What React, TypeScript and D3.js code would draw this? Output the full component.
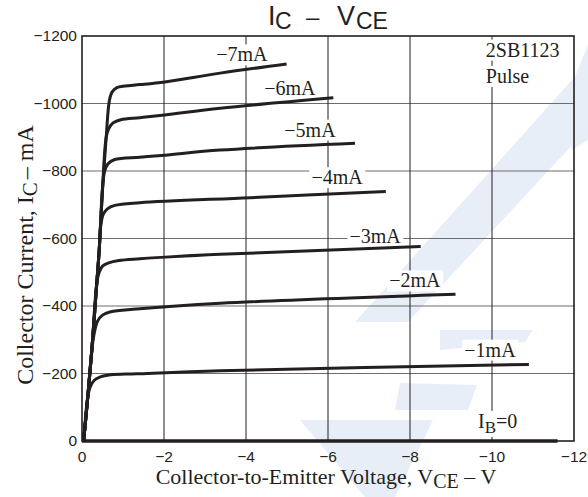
import React, { useRef, useLayoutEffect, useState } from "react";
import * as d3 from "d3";

// ---- data (V_CE in volts, I_C in mA) ----
const xTicks = [0, -2, -4, -6, -8, -10, -12];
const yTicks = [0, -200, -400, -600, -800, -1000, -1200];

const ib1 = [[-0.04, 0], [-0.14, -130], [-0.2, -160], [-0.3, -180], [-0.45, -190], [-0.7, -196], [-1.33, -199], [-3.37, -208], [-10.9, -227]];
const ib2 = [[-0.04, 0], [-0.14, -130], [-0.24, -270], [-0.3, -320], [-0.38, -355], [-0.5, -373], [-0.7, -383], [-1.33, -391], [-3.37, -408], [-9.11, -435]];
const ib3 = [[-0.04, 0], [-0.14, -130], [-0.24, -270], [-0.36, -467], [-0.42, -500], [-0.5, -518], [-0.65, -528], [-0.9, -535], [-1.41, -540], [-3.37, -553], [-8.26, -576]];
const ib4 = [[-0.04, 0], [-0.14, -130], [-0.24, -270], [-0.36, -467], [-0.42, -566], [-0.46, -640], [-0.52, -672], [-0.62, -688], [-0.8, -698], [-1.41, -706], [-4.1, -721], [-7.41, -739]];
const ib5 = [[-0.04, 0], [-0.14, -130], [-0.24, -270], [-0.36, -467], [-0.42, -566], [-0.5, -750], [-0.55, -798], [-0.63, -821], [-0.8, -834], [-1.41, -841], [-2.02, -847], [-3.37, -862], [-6.66, -882]];
const ib6 = [[-0.04, 0], [-0.14, -130], [-0.24, -270], [-0.36, -467], [-0.42, -566], [-0.5, -745], [-0.59, -900], [-0.65, -925], [-0.75, -942], [-0.95, -952], [-1.41, -958], [-2.02, -966], [-3.37, -986], [-6.13, -1017]];
const ib7 = [[-0.04, 0], [-0.14, -130], [-0.24, -270], [-0.36, -467], [-0.42, -566], [-0.5, -745], [-0.59, -900], [-0.67, -1010], [-0.74, -1035], [-0.85, -1047], [-1.05, -1052], [-1.41, -1056], [-2.02, -1064], [-3.37, -1090], [-4.99, -1117]];
const ib0 = [[0, 0], [-11.6, 0]];

const curves = [ib1, ib2, ib3, ib4, ib5, ib6, ib7];
const curveLabels = ["−1mA", "−2mA", "−3mA", "−4mA", "−5mA", "−6mA", "−7mA"];
const curveLabelAt = [[-9.95, -250], [-8.12, -455], [-7.15, -588], [-6.22, -761], [-5.56, -902], [-5.07, -1025], [-3.9, -1125]];

const partName = "2SB1123";
const partNote = "Pulse";

// ---- layout ----
const W = 588, H = 497;
const M = { left: 82, right: 574, top: 36, bottom: 441 };
const INK = "#231f20";
const SERIF = "'Liberation Serif', 'Times New Roman', serif";
const SANS = "'Liberation Sans', Arial, sans-serif";

function BgText({ x, y, anchor = "middle", size = 20, children, pad = 2 }: any) {
  const ref = useRef<SVGTextElement>(null);
  const [box, setBox] = useState<any>(null);
  useLayoutEffect(() => {
    if (ref.current) {
      const b = ref.current.getBBox();
      setBox({ x: b.x, y: b.y, w: b.width, h: b.height });
    }
  }, []);
  return (
    <g>
      {box && <rect x={box.x - pad} y={box.y + 1} width={box.w + pad * 2} height={box.h - 1} fill="#fff" />}
      <text ref={ref} x={x} y={y} textAnchor={anchor} fontFamily={SERIF} fontSize={size} fill={INK}>
        {children}
      </text>
    </g>
  );
}

export default function App() {
  const x = d3.scaleLinear().domain([0, -12]).range([M.left, M.right]);
  const y = d3.scaleLinear().domain([0, -1200]).range([M.bottom, M.top]);
  const line = d3
    .line<number[]>()
    .x((d) => x(d[0]))
    .y((d) => y(d[1]))
    .curve(d3.curveCatmullRom.alpha(0.5));

  const wm = "#e8eef8";

  return (
    <svg width={W} height={H} style={{ position: "absolute", left: 0, top: 0, background: "#fff" }}>
      {/* watermark */}
      <g fill={wm}>
        <polygon points="355,322 408,322 588,128 588,62" />
        <polygon points="300,420 433,420 395,497 365,497" />
        <polygon points="400,383 477,385 468,410 395,410" />
        <polygon points="440,330 533,330 525,342 440,350" />
        <polygon points="588,45 562,108 572,150 588,140" />
      </g>

      {/* grid */}
      {yTicks.slice(1, -1).map((t) => (
        <line key={"gy" + t} x1={M.left} x2={M.right} y1={y(t)} y2={y(t)} stroke="#6d6d6d" strokeWidth={1} />
      ))}
      {xTicks.slice(1, -1).map((t) => (
        <line key={"gx" + t} x1={x(t)} x2={x(t)} y1={M.top} y2={M.bottom} stroke={INK} strokeWidth={1} />
      ))}

      {/* labels with white backgrounds */}
      {curveLabels.map((l, i) => (
        <BgText key={l} x={x(curveLabelAt[i][0])} y={y(curveLabelAt[i][1])} size={20}>
          {l}
        </BgText>
      ))}
      <BgText x={x(-9.66)} y={y(-39)} anchor="start" size={20}>
        I<tspan fontSize={17} dy={5}>B</tspan>
        <tspan dy={-5}>=0</tspan>
      </BgText>
      <BgText x={x(-9.85)} y={y(-1139)} anchor="start" size={20}>
        {partName}
      </BgText>
      <BgText x={x(-9.85)} y={y(-1061)} anchor="start" size={20}>
        {partNote}
      </BgText>

      {/* frame */}
      <rect x={M.left} y={M.top} width={M.right - M.left} height={M.bottom - M.top} fill="none" stroke={INK} strokeWidth={1.6} />

      {/* curves */}
      {curves.map((c, i) => (
        <path key={i} d={line(c as any) || ""} fill="none" stroke={INK} strokeWidth={3} strokeLinecap="butt" strokeLinejoin="round" />
      ))}
      <path d={line(ib0 as any) || ""} fill="none" stroke={INK} strokeWidth={3.5} />

      {/* tick labels */}
      {yTicks.map((t) => (
        <text key={"ty" + t} x={M.left - 5} y={y(t) + 5} textAnchor="end" fontFamily={SANS} fontSize={15.5} fill={INK}>
          {t === 0 ? "0" : "−" + Math.abs(t)}
        </text>
      ))}
      {xTicks.map((t) => (
        <text key={"tx" + t} x={x(t)} y={M.bottom + 21} textAnchor="middle" fontFamily={SANS} fontSize={15.5} fill={INK}>
          {t === 0 ? "0" : "−" + Math.abs(t)}
        </text>
      ))}

      {/* title */}
      <g fontFamily={SANS} fill={INK}>
        <text x={268} y={25} fontSize={27}>I</text>
        <text x={275} y={28.5} fontSize={23}>C</text>
        <text x={306} y={25} fontSize={24}>–</text>
        <text x={337} y={25} fontSize={27}>V</text>
        <text x={356} y={28.5} fontSize={23}>CE</text>
      </g>

      {/* axis titles */}
      <text x={326} y={484} textAnchor="middle" fontFamily={SERIF} fontSize={22} fill={INK}>
        Collector-to-Emitter Voltage, V<tspan fontSize={20} dy={4}>CE</tspan>
        <tspan dy={-4}> – V</tspan>
      </text>
      <text transform="translate(33,255) rotate(-90)" textAnchor="middle" fontFamily={SERIF} fontSize={24} fill={INK}>
        Collector Current, I<tspan fontSize={21} dy={4}>C</tspan>
        <tspan dy={-4} dx={3}>– mA</tspan>
      </text>
    </svg>
  );
}
